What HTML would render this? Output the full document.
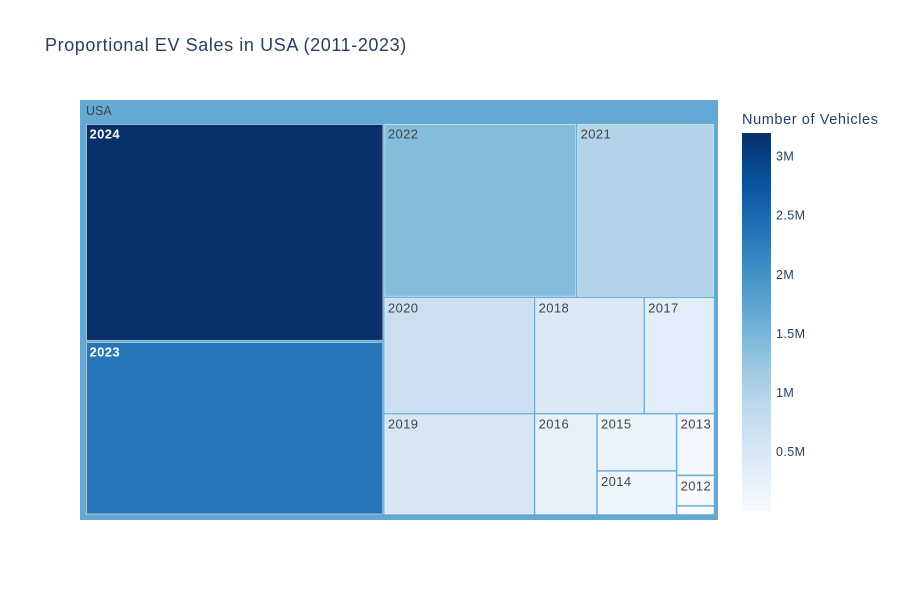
<!DOCTYPE html>
<html><head><meta charset="utf-8"><style>
body{margin:0;background:#fff;}
svg text{font-family:"Liberation Sans",Arial,sans-serif;}
</style></head><body>
<svg id="chart" width="900" height="600" xmlns="http://www.w3.org/2000/svg">
<defs>
<linearGradient id="cbgrad" x1="0" y1="1" x2="0" y2="0">
<stop offset="0" stop-color="rgb(247,251,255)"/><stop offset="0.125" stop-color="rgb(222,235,247)"/>
<stop offset="0.25" stop-color="rgb(198,219,239)"/><stop offset="0.375" stop-color="rgb(158,202,225)"/>
<stop offset="0.5" stop-color="rgb(107,174,214)"/><stop offset="0.625" stop-color="rgb(66,146,198)"/>
<stop offset="0.75" stop-color="rgb(33,113,181)"/><stop offset="0.875" stop-color="rgb(8,81,156)"/>
<stop offset="1" stop-color="rgb(8,48,107)"/>
</linearGradient>
</defs>
<text x="45" y="51" font-size="18" letter-spacing="0.6" fill="#2a3f5f">Proportional EV Sales in USA (2011-2023)</text>
<g id="tm"></g>
<text x="742" y="124" font-size="14.5" letter-spacing="0.6" fill="#2a3f5f">Number of Vehicles</text>
<rect x="742" y="133" width="29" height="378" fill="url(#cbgrad)"/>
<g id="cbticks"></g>
</svg>
<script>
const years = ["2024","2023","2022","2021","2020","2019","2018","2017","2016","2015","2014","2013","2012","2011"];
const sales = [3200000,2550000,1650000,1180000,864000,752000,628000,403000,311000,224000,173000,115000,57000,17000];
const colorValues = [3200000,2330000,1400000,1000000,700000,520000,450000,350000,250000,200000,150000,100000,50000,10000];
const cbTickValues = [500000,1000000,1500000,2000000,2500000,3000000];
const cbTickLabels = ["0.5M","1M","1.5M","2M","2.5M","3M"];

const NS="http://www.w3.org/2000/svg";
const stops=[[0,[247,251,255]],[0.125,[222,235,247]],[0.25,[198,219,239]],[0.375,[158,202,225]],[0.5,[107,174,214]],[0.625,[66,146,198]],[0.75,[33,113,181]],[0.875,[8,81,156]],[1,[8,48,107]]];
const cmin=0, cmax=3200000;
function colorOf(v){let t=Math.max(0,Math.min(1,(v-cmin)/(cmax-cmin)));
 for(let i=1;i<stops.length;i++){if(t<=stops[i][0]){const a=stops[i-1],b=stops[i];const f=(t-a[0])/(b[0]-a[0]);
 const c=a[1].map((x,k)=>Math.round(x+(b[1][k]-x)*f));return {rgb:`rgb(${c})`,lum:(0.299*c[0]+0.587*c[1]+0.114*c[2])};}}
 return {rgb:"rgb(8,48,107)",lum:40};}
function mk(tag,attrs,parent){const e=document.createElementNS(NS,tag);for(const k in attrs)e.setAttribute(k,attrs[k]);parent.appendChild(e);return e;}

const g=document.getElementById('tm');
const total=sales.reduce((a,b)=>a+b,0);
const wavg=sales.reduce((a,b,i)=>a+b*colorValues[i],0)/total;
const rootColor=colorOf(wavg*0.95).rgb;
const root=mk('rect',{x:80,y:100,width:638,height:420,fill:rootColor},g);


const rl=mk('text',{x:86,y:115,'font-size':12.5,fill:'#444'},g);rl.textContent="USA";



function squarify(vals,x0,y0,x1,y1,ratio){
 const out=[];let value=vals.reduce((a,b)=>a+b,0);let i0=0,i1=0;const n=vals.length;
 while(i0<n){const dx=x1-x0,dy=y1-y0;let sum=vals[i1++];let mn=sum,mx=sum;
  const alpha=Math.max(dy/dx,dx/dy)/(value*ratio);let beta=sum*sum*alpha;let minR=Math.max(mx/beta,beta/mn);
  for(;i1<n;++i1){const nv=vals[i1];sum+=nv;if(nv<mn)mn=nv;if(nv>mx)mx=nv;beta=sum*sum*alpha;
   const nr=Math.max(mx/beta,beta/mn);if(nr>minR){sum-=nv;break;}minR=nr;}
  const dice=dx<dy;
  if(dice){const ny=y0+dy*sum/value;let x=x0;for(let i=i0;i<i1;i++){const w=dx*vals[i]/sum;out[i]=[x,y0,x+w,ny];x+=w;}y0=ny;}
  else{const nx=x0+dx*sum/value;let y=y0;for(let i=i0;i<i1;i++){const h=dy*vals[i]/sum;out[i]=[x0,y,nx,y+h];y+=h;}x0=nx;}
  value-=sum;i0=i1;}
 return out;}
const rects=squarify(sales,85.5,123.5,714.5,515,1);
rects.forEach((r,i)=>{
 const c=colorOf(colorValues[i]);
 const w=Math.max(0,r[2]-r[0]-2), h=Math.max(0,r[3]-r[1]-2);
 const t=mk('rect',{x:r[0]+1,y:r[1]+1,width:w,height:h,fill:c.rgb,stroke:'rgba(255,255,255,0.5)','stroke-width':1},g);
 
 
 if(w>20&&h>16){
  const dark=c.lum<140;
  const tx=mk('text',{x:r[0]+4,y:r[1]+15,'font-size':13,'letter-spacing':0.4,fill:dark?'#fff':'#444','font-weight':dark?'bold':'normal'},g);
  tx.textContent=years[i];
  
  
 }
});
const cb=document.getElementById('cbticks');
const cbY=v=>511-(v-cmin)/(cmax-cmin)*378;
cbTickValues.forEach((v,i)=>{
 const tx=mk('text',{x:776,y:cbY(v)+4,'font-size':12.5,'letter-spacing':0.4,fill:'#2a3f5f'},cb);
 tx.textContent=cbTickLabels[i];
 
 
});
</script>
</body></html>
